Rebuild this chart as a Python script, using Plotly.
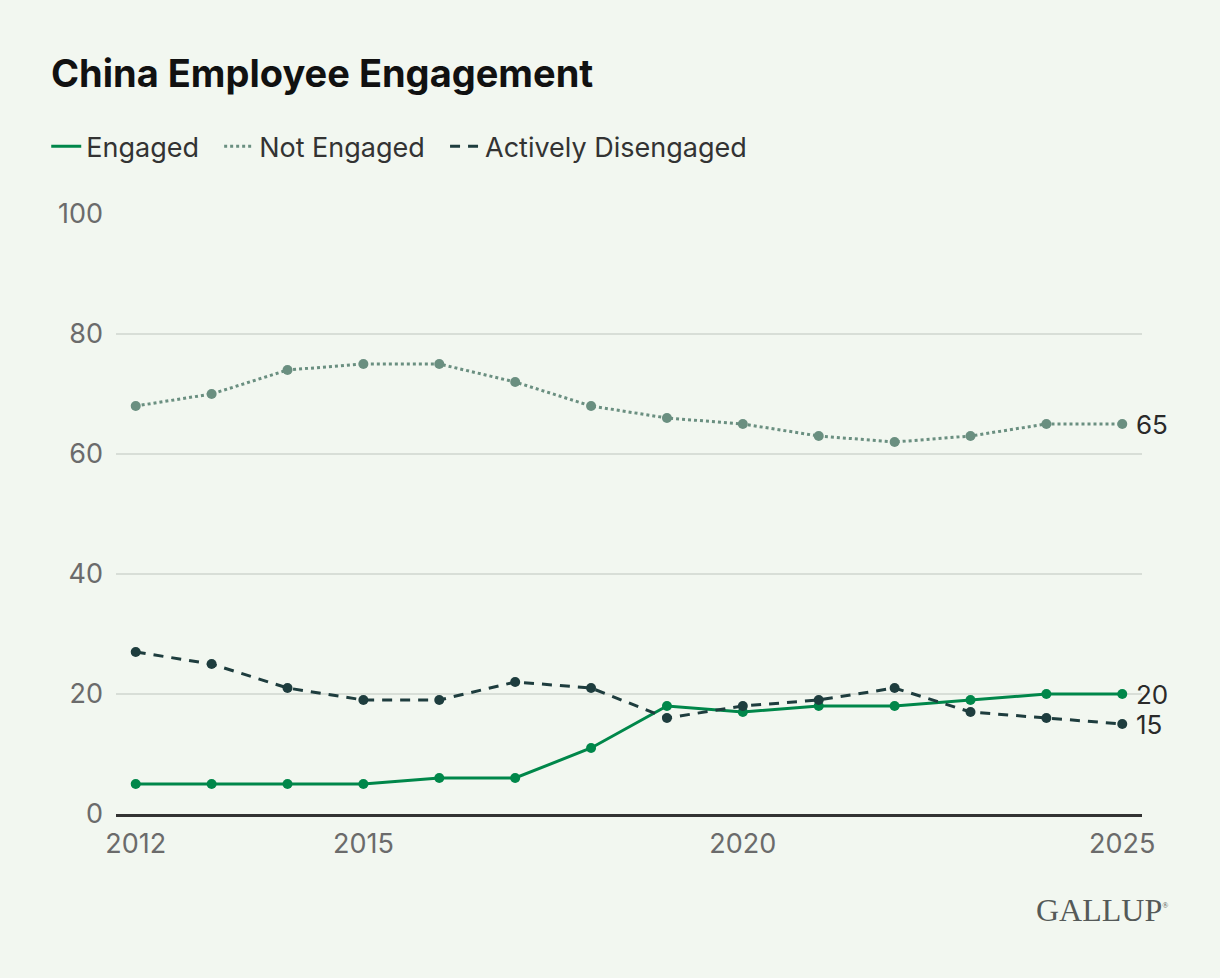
import plotly.graph_objects as go

years = list(range(2012, 2026))
engaged = [5, 5, 5, 5, 6, 6, 11, 18, 17, 18, 18, 19, 20, 20]
not_engaged = [68, 70, 74, 75, 75, 72, 68, 66, 65, 63, 62, 63, 65, 65]
actively_disengaged = [27, 25, 21, 19, 19, 22, 21, 16, 18, 19, 21, 17, 16, 15]
series_names = ["Engaged", "Not Engaged", "Actively Disengaged"]
x_ticks = [2012, 2015, 2020, 2025]
y_ticks = [0, 20, 40, 60, 80, 100]

C_ENG = "#00874A"
C_NOT = "#6A8F80"
C_ACT = "#1E3D3E"
BG = "#F2F7F0"
FONT = "Inter, Roboto, sans-serif"

styles = [
    dict(color=C_ENG, width=3),
    dict(color=C_NOT, width=3, dash="dot"),
    dict(color=C_ACT, width=3, dash="10px,8px"),
]
colors = [C_ENG, C_NOT, C_ACT]

fig = go.Figure()
for name, vals, st, c in zip(series_names, [engaged, not_engaged, actively_disengaged], styles, colors):
    fig.add_trace(go.Scatter(x=years, y=vals, name=name, mode="lines+markers", showlegend=False,
                             line=st, marker=dict(size=10, color=c)))
# legend-only line entries
for name, st in zip(series_names, styles):
    fig.add_trace(go.Scatter(x=[None], y=[None], name=name + "\u00a0\u00a0", mode="lines", line=st,
                             showlegend=True))

# end labels
for vals in (not_engaged, engaged, actively_disengaged):
    fig.add_annotation(x=years[-1], y=vals[-1], text=str(vals[-1]), showarrow=False,
                       xanchor="left", yanchor="middle", xshift=12,
                       font=dict(family=FONT, size=26, color="#2a2a2a"))

fig.add_annotation(xref="paper", yref="paper", x=-0.065, y=1.235, text="<b>China Employee Engagement</b>",
                   showarrow=False, xanchor="left", yanchor="middle",
                   font=dict(family=FONT, size=38, color="#111111"))

fig.add_annotation(xref="paper", yref="paper", x=1.027, y=-0.16,
                   text="GALLUP<sup><span style='font-size:8px'>®</span></sup>",
                   showarrow=False, xanchor="right", yanchor="middle",
                   font=dict(family="Liberation Serif, DejaVu Serif, serif", size=32, color="#555a58"))

fig.update_layout(
    width=1220, height=978,
    paper_bgcolor=BG, plot_bgcolor=BG,
    margin=dict(l=116, r=78, t=214, b=164),
    showlegend=True,
    legend=dict(orientation="h", x=-0.068, y=1.112, xanchor="left", yanchor="middle",
                font=dict(family=FONT, size=27, color="#333333"), bgcolor="rgba(0,0,0,0)",
                itemwidth=30, tracegroupgap=0),
    hovermode=False,
    font=dict(family=FONT),
)
fig.update_xaxes(range=[2011.74, 2025.26], tickvals=x_ticks, ticktext=[str(v) for v in x_ticks],
                 showgrid=False, showline=True, linecolor="#333333", linewidth=3,
                 ticks="", tickfont=dict(family=FONT, size=27, color="#6b6b6b"), ticklabelstandoff=4,
                 zeroline=False)
fig.update_yaxes(range=[0, 100], tickvals=y_ticks, showgrid=True, gridcolor="#D8DED7", gridwidth=1.5,
                 zeroline=False, showline=False, ticks="",
                 tickfont=dict(family=FONT, size=27, color="#6b6b6b"), ticklabelstandoff=12)

fig.write_html("out.html")
